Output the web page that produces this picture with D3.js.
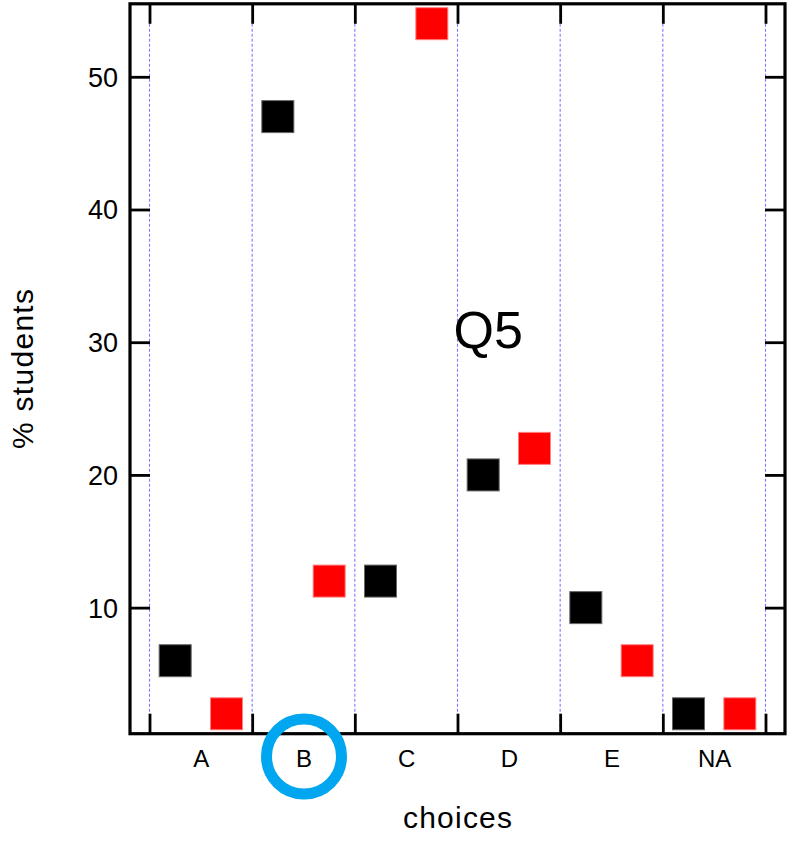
<!DOCTYPE html>
<html>
<head>
<meta charset="utf-8">
<script src="https://cdn.jsdelivr.net/npm/d3@7"></script>
<style>
  html, body { margin: 0; padding: 0; background: #fff; }
  svg { display: block; }
  text { font-family: "Liberation Sans", Arial, Helvetica, sans-serif; fill: #000; }
</style>
</head>
<body>
<svg id="chart" width="796" height="843"></svg>
<script>
const categories = ["A", "B", "C", "D", "E", "NA"];
const seriesBlack = [6, 47, 12, 20, 10, 2];
const seriesRed = [2, 12, 54, 22, 6, 2];
const yTicks = [10, 20, 30, 40, 50];
const title = "Q5";
const xTitle = "choices";
const yTitle = "% students";
const highlighted = "B";

const svg = d3.select("#chart");
const L = 130, R = 785, T = 3.8, B = 733.7;

const x = d3.scaleLinear().domain([-0.69, categories.length - 1 + 0.69]).range([L, R]);
const y = d3.scaleLinear().domain([0.5, 55.5]).range([B, T]);

const boundaries = d3.range(categories.length + 1).map(i => i - 0.5);

// dotted vertical separators
svg.append("g").selectAll("line").data(boundaries).join("line")
  .attr("x1", d => x(d)).attr("x2", d => x(d))
  .attr("y1", T).attr("y2", B)
  .attr("stroke", "#7b7bff").attr("stroke-width", 1.1)
  .attr("stroke-dasharray", "3,2");

// axes with inward ticks
function styleAxis(g) {
  g.select(".domain").remove();
  g.selectAll(".tick line").attr("stroke", "#000").attr("stroke-width", 2.8);
  g.selectAll(".tick text").attr("fill", "#000");
}

svg.append("g").attr("transform", `translate(${L},0)`)
  .call(d3.axisLeft(y).tickValues(yTicks).tickSize(-20).tickPadding(12))
  .call(styleAxis)
  .call(g => g.selectAll(".tick text").attr("font-size", 27)
    .attr("font-family", "Liberation Sans, Arial, sans-serif").attr("dy", "0.35em"));

svg.append("g").attr("transform", `translate(${R},0)`)
  .call(d3.axisRight(y).tickValues(yTicks).tickSize(-20).tickFormat(""))
  .call(styleAxis);

svg.append("g").attr("transform", `translate(0,${B})`)
  .call(d3.axisBottom(x).tickValues(boundaries).tickSize(-20).tickFormat(""))
  .call(styleAxis);

svg.append("g").attr("transform", `translate(0,${T})`)
  .call(d3.axisTop(x).tickValues(boundaries).tickSize(-20).tickFormat(""))
  .call(styleAxis);

// category labels
svg.append("g").attr("transform", `translate(0,${B})`)
  .call(d3.axisBottom(x).tickValues(d3.range(categories.length)).tickSize(0).tickPadding(0)
    .tickFormat(i => categories[i]))
  .call(g => g.select(".domain").remove())
  .call(g => g.selectAll(".tick text").attr("font-size", 24)
    .attr("font-family", "Liberation Sans, Arial, sans-serif")
    .attr("dy", null).attr("y", 33));

// frame
svg.append("rect").attr("x", L).attr("y", T).attr("width", R - L).attr("height", B - T)
  .attr("fill", "none").attr("stroke", "#000").attr("stroke-width", 3.2);

// markers
const size = 32;
const marks = [
  { data: seriesBlack, off: -0.25, fill: "#000", stroke: "#666" },
  { data: seriesRed, off: 0.25, fill: "#ff0000", stroke: "#ff8080" }
];
marks.forEach(m => {
  svg.append("g").selectAll("rect").data(m.data).join("rect")
    .attr("x", (d, i) => x(i + m.off) - size / 2)
    .attr("y", d => y(d) - size / 2)
    .attr("width", size).attr("height", size)
    .attr("fill", m.fill).attr("stroke", m.stroke).attr("stroke-width", 1);
});

// titles
svg.append("text").attr("x", x(2.8)).attr("y", 348).attr("text-anchor", "middle")
  .attr("font-size", 52).text(title);

svg.append("text").attr("x", (x(-0.5) + x(categories.length - 0.5)) / 2).attr("y", 828)
  .attr("text-anchor", "middle").attr("font-size", 30).attr("textLength", 109)
  .text(xTitle);

svg.append("text").attr("transform", "translate(33,369) rotate(-90)")
  .attr("text-anchor", "middle").attr("font-size", 30).attr("textLength", 160)
  .text(yTitle);

// highlight circle around correct answer
const hi = categories.indexOf(highlighted);
svg.append("circle").attr("cx", x(hi) + 0.5).attr("cy", 756.5).attr("r", 37.5)
  .attr("fill", "none").attr("stroke", "#00a6f0").attr("stroke-width", 11);
</script>
</body>
</html>
